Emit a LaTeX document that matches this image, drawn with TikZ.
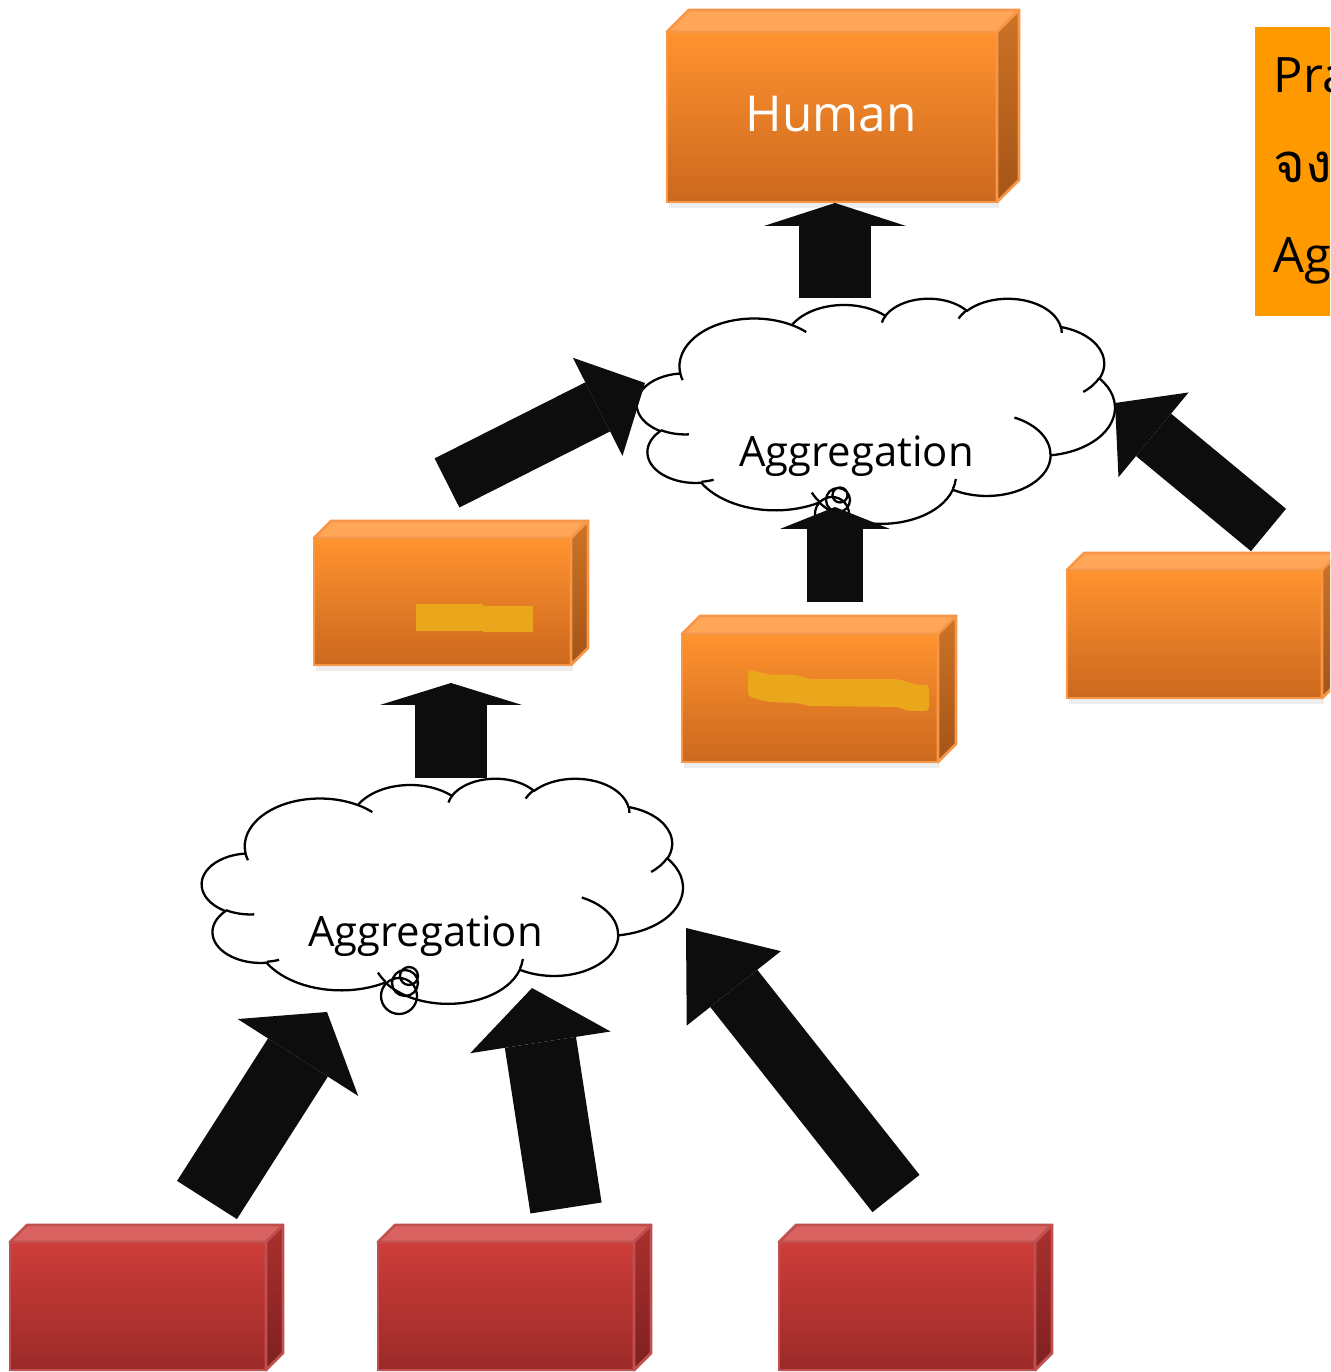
\documentclass[tikz,border=0pt]{standalone}
\usepackage{fontspec}
\setmainfont{Open Sans}
\newfontfamily\thaifont[Script=Thai]{Loma}
\usepackage{xcolor}
\usepackage{tikz}
\usetikzlibrary{calc, arrows.meta, shadows}

\definecolor{orangetop}{RGB}{255,147,47}
\definecolor{orangebot}{RGB}{204,104,30}
\definecolor{orangelid}{RGB}{255,166,88}
\definecolor{orangeside}{RGB}{204,116,38}
\definecolor{orangesidebot}{RGB}{165,84,24}
\definecolor{orangeedge}{RGB}{247,150,70}
\definecolor{redtop}{RGB}{206,61,58}
\definecolor{redbot}{RGB}{155,42,40}
\definecolor{redlid}{RGB}{217,99,96}
\definecolor{redside}{RGB}{170,48,46}
\definecolor{redsidebot}{RGB}{126,32,32}
\definecolor{rededge}{RGB}{192,80,77}
\definecolor{marker}{RGB}{234,167,28}
\definecolor{notefill}{RGB}{255,153,0}
\definecolor{arrowblack}{RGB}{13,13,13}

% lid and right side of a block: #1 node, #2 depth, #3 colour prefix
\newcommand\blockfaces[3]{%
  \filldraw[draw=#3edge, fill=#3lid, line width=0.8pt, line join=round]
    (#1.north west) -- ++(#2,#2) -- ($(#1.north east)+(#2,#2)$) -- (#1.north east) -- cycle;
  \shadedraw[draw=#3edge, top color=#3side, bottom color=#3sidebot, line width=0.8pt, line join=round]
    (#1.north east) -- ++(#2,#2) -- ($(#1.south east)+(#2,#2)$) -- (#1.south east) -- cycle;
}

% elliptic arc given by radii, start angle and sweep as seen on the ellipse
\newcommand\cloudarc[4]{arc[x radius=#1, y radius=#2,
  start angle={atan2((#1)*sin(#3),(#2)*cos(#3))},
  delta angle={mod(atan2((#1)*sin((#3)+(#4)),(#2)*cos((#3)+(#4)))-atan2((#1)*sin(#3),(#2)*cos(#3))+720,360)}]}

% cloud outline in a 43.2 x 43.2 frame, y pointing down
\newcommand\cloudoutline{(3.900,14.370)
  \cloudarc{6.753}{9.190}{-190.4875}{123.7805}
  \cloudarc{5.333}{7.267}{-144.1024}{89.9452}
  \cloudarc{4.365}{5.945}{-145.8079}{99.7230}
  \cloudarc{4.857}{6.595}{-130.9861}{117.2417}
  \cloudarc{5.333}{7.273}{-78.7089}{109.0269}
  \cloudarc{6.775}{9.220}{-46.2673}{130.2690}
  \cloudarc{5.785}{7.867}{0.6250}{114.0333}
  \cloudarc{6.752}{9.215}{22.4516}{115.1726}
  \cloudarc{7.720}{10.543}{66.2426}{75.7110}
  \cloudarc{4.360}{5.918}{-274.9421}{146.7356}
  \cloudarc{4.345}{5.945}{-246.8285}{152.5189}
  -- cycle}

% the small inner strokes of the cloud
\newcommand\cloudmarks{
  (4.693,26.177) \cloudarc{4.345}{5.945}{86.7420}{26.4295}
  (6.928,34.899) \cloudarc{4.360}{5.918}{73.6105}{11.4475}
  (16.478,39.090) \cloudarc{6.752}{9.215}{137.6242}{14.0811}
  (28.827,34.751) \cloudarc{6.752}{9.215}{6.4533}{15.9984}
  (34.129,22.954) \cloudarc{5.785}{7.867}{-70.2924}{70.9174}
  (41.798,15.354) \cloudarc{5.333}{7.273}{30.3180}{27.7515}
  (38.324,5.426) \cloudarc{4.857}{6.595}{-13.7443}{14.8589}
  (29.078,3.952) \cloudarc{4.857}{6.595}{-149.1815}{18.1954}
  (22.141,4.720) \cloudarc{4.365}{5.945}{-163.4943}{17.6864}
  (14.000,5.192) \cloudarc{6.753}{9.190}{-66.7070}{12.3194}
  (4.127,15.789) \cloudarc{6.753}{9.190}{157.6544}{11.8582}
}

\tikzset{
  block/.style={rectangle, line width=0.8pt, inner sep=0pt, outer sep=0pt,
    minimum width=2.56cm, minimum height=1.28cm,
    drop shadow={shadow xshift=0.5pt, shadow yshift=-1.6pt, opacity=0.14}},
  orangeblock/.style={block, draw=orangeedge, top color=orangetop, bottom color=orangebot},
  redblock/.style={block, draw=rededge, top color=redtop, bottom color=redbot},
  cloud/.style={draw=black, line width=0.65pt, line join=round},
  aggtext/.style={font=\fontsize{11.9}{14}\selectfont, anchor=base, inner sep=0pt},
  notetext/.style={font=\fontsize{13.9}{16}\selectfont, anchor=base west, inner sep=0pt},
  bigarrow/.style n args={3}{draw=arrowblack, line width=#1,
    -{Triangle[width=#2, length=#3, line width=0pt]}},
}

\begin{document}
\begin{tikzpicture}
\clip (0,0) rectangle (13.30,13.72);
\fill[white] (0,0) rectangle (13.30,13.72);

% note on the right edge
\fill[notefill] (12.55,10.56) rectangle (13.60,13.45);
\node[notetext] (N1) at (12.73,12.79) {Pra};
\node[notetext] (N2) at (12.73,11.89) {\thaifont\fontsize{15.5}{18}\selectfont จง};
\node[notetext] (N3) at (12.73,10.99) {Ag};

% blocks
\node[orangeblock, minimum width=3.30cm, minimum height=1.70cm] (H) at (8.32,12.55) {};
\node[text=white, font=\fontsize{14.1}{16}\selectfont, inner sep=0pt] (Hl) at (8.31,12.58) {Human};
\blockfaces{H}{0.22}{orange}
\node[orangeblock, minimum width=2.57cm, minimum height=1.27cm] (M1) at (4.425,7.705) {};
\blockfaces{M1}{0.17}{orange}
\node[orangeblock] (M2) at (8.10,6.74) {};
\blockfaces{M2}{0.18}{orange}
\node[orangeblock, minimum width=2.55cm] (M3) at (11.945,7.38) {};
\blockfaces{M3}{0.17}{orange}
\node[redblock] (S1) at (1.38,0.66) {};
\blockfaces{S1}{0.17}{red}
\node[redblock] (S2) at (5.06,0.66) {};
\blockfaces{S2}{0.17}{red}
\node[redblock] (S3) at (9.07,0.66) {};
\blockfaces{S3}{0.17}{red}

% marker strokes over the blocks
\fill[marker] (4.16,7.68) rectangle (4.83,7.41);
\fill[marker] (4.83,7.66) rectangle (5.33,7.40);
\fill[marker, rounded corners=1pt] (7.48,7.03) -- (7.57,7.00) -- (7.63,6.99) -- (7.73,6.97)
  -- (7.97,6.97) -- (8.10,6.93) -- (8.97,6.93) -- (9.08,6.90) -- (9.17,6.87) -- (9.29,6.87)
  -- (9.29,6.61) -- (9.09,6.61) -- (8.97,6.65) -- (8.10,6.66) -- (7.97,6.69) -- (7.70,6.70)
  -- (7.57,6.73) -- (7.48,6.76) -- cycle;

% upper cloud
\begin{scope}[shift={(6.37,10.74)}, x=0.1106cm, y=-0.0521cm]
  \filldraw[cloud, fill=white] \cloudoutline;
  \draw[cloud] \cloudmarks;
\end{scope}
\draw[cloud] (8.40,8.77) circle (0.075) (8.38,8.72) circle (0.12) (8.32,8.58) circle (0.17);
\node[aggtext] (C1) at (8.565,9.05) {Aggregation};

% lower cloud
\begin{scope}[shift={(2.02,5.94)}, x=0.1113cm, y=-0.0521cm]
  \filldraw[cloud, fill=white] \cloudoutline;
  \draw[cloud] \cloudmarks;
\end{scope}
\draw[cloud] (4.09,3.96) circle (0.09) (4.05,3.89) circle (0.13) (3.99,3.76) circle (0.18);
\node[aggtext] (C2) at (4.255,4.25) {Aggregation};

% arrow ends
\coordinate (A1s) at (8.35,10.74);  \coordinate (A1e) at (8.35,11.69);
\coordinate (A2s) at (4.47,8.89);   \coordinate (A2e) at (6.45,9.89);
\coordinate (A3s) at (12.685,8.42); \coordinate (A3e) at (11.15,9.69);
\coordinate (A4s) at (8.35,7.70);   \coordinate (A4e) at (8.35,8.65);
\coordinate (A5s) at (4.51,5.94);   \coordinate (A5e) at (4.51,6.89);
\coordinate (A6s) at (2.07,1.72);   \coordinate (A6e) at (3.27,3.60);
\coordinate (A7s) at (5.66,1.64);   \coordinate (A7e) at (5.32,3.84);
\coordinate (A8s) at (8.96,1.785);  \coordinate (A8e) at (6.86,4.44);

\draw[bigarrow={0.72cm}{1.42cm}{0.23cm}] (A1s) -- (A1e);
\draw[bigarrow={0.55cm}{1.10cm}{0.53cm}] (A2s) -- (A2e);
\draw[bigarrow={0.55cm}{1.10cm}{0.50cm}] (A3s) -- (A3e);
\draw[bigarrow={0.56cm}{1.10cm}{0.22cm}] (A4s) -- (A4e);
\draw[bigarrow={0.72cm}{1.42cm}{0.22cm}] (A5s) -- (A5e);
\draw[bigarrow={0.71cm}{1.43cm}{0.54cm}] (A6s) -- (A6e);
\draw[bigarrow={0.72cm}{1.42cm}{0.55cm}] (A7s) -- (A7e);
\draw[bigarrow={0.60cm}{1.20cm}{0.77cm}] (A8s) -- (A8e);
\end{tikzpicture}
\end{document}
